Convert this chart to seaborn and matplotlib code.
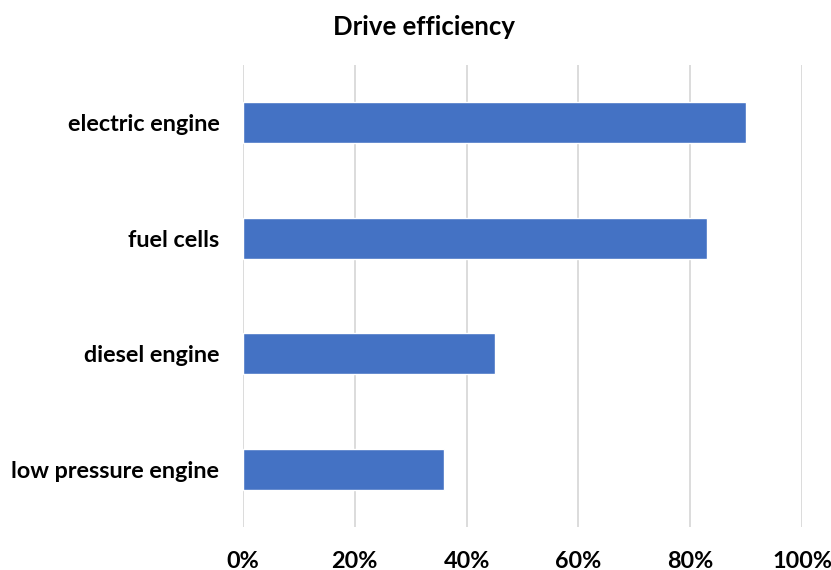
import matplotlib
matplotlib.use("Agg")
import matplotlib.pyplot as plt
from matplotlib.ticker import PercentFormatter
import seaborn as sns
import pandas as pd

categories = ["electric engine", "fuel cells", "diesel engine", "low pressure engine"]
efficiency = [0.90, 0.83, 0.45, 0.36]
x_ticks = [0.0, 0.2, 0.4, 0.6, 0.8, 1.0]

df = pd.DataFrame({"drive": categories, "efficiency": efficiency})

sns.set_theme(style="white")
plt.rcParams["font.family"] = ["Lato", "DejaVu Sans"]

fig = plt.figure(figsize=(8.31, 5.70), dpi=100)
ax = fig.add_axes([243 / 831, 1 - 527 / 570, (802 - 243) / 831, (527 - 65) / 570])

sns.barplot(data=df, x="efficiency", y="drive", orient="h", color="#4472C4",
            width=0.355, saturation=1, ax=ax, zorder=3)

ax.set_xlim(0, 1)
ax.set_xticks(x_ticks)
ax.xaxis.set_major_formatter(PercentFormatter(xmax=1, decimals=0))
ax.grid(axis="x", color="#D9D9D9", linewidth=1.3, zorder=0)
ax.grid(axis="y", visible=False)
for s in ax.spines.values():
    s.set_visible(False)
ax.set_xlabel("")
ax.set_ylabel("")
ax.tick_params(axis="both", length=0, labelsize=16.8, labelcolor="black")
ax.tick_params(axis="y", pad=17)
ax.tick_params(axis="x", pad=17)
for lbl in ax.get_xticklabels() + ax.get_yticklabels():
    lbl.set_fontweight("bold")

fig.text(424 / 831, 1 - 27 / 570, "Drive efficiency", ha="center", va="center",
         fontsize=18.5, fontweight="bold", color="black")

fig.savefig("out.png", dpi=100, facecolor="white")
